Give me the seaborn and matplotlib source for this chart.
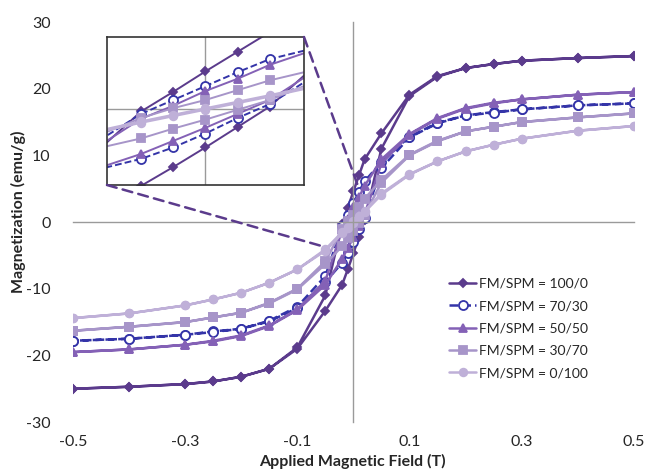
import matplotlib
matplotlib.use('Agg')

import matplotlib.pyplot as plt
from matplotlib.patches import ConnectionPatch
import seaborn as sns
import pandas as pd

# field sweep: down from +0.5 T, then back up from -0.5 T
field_down = [0.5, 0.4, 0.3, 0.25, 0.2, 0.15, 0.1, 0.05, 0.02, 0.01, 0.0,
              -0.01, -0.02, -0.05, -0.1, -0.15, -0.2, -0.25, -0.3, -0.4, -0.5]
field_up = field_down[::-1]

m100_down = [24.9, 24.6, 24.2, 23.7, 23.1, 21.9, 19.1, 13.3, 9.4, 7.0, 4.6,
             2.1, -0.3, -11.0, -18.8, -22.0, -23.2, -23.9, -24.3, -24.7, -25.0]
m100_up = [-25.0, -24.7, -24.3, -23.9, -23.2, -22.0, -19.0, -13.3, -9.4, -7.1, -4.7,
           -2.2, 0.3, 11.0, 18.9, 21.8, 23.1, 23.7, 24.2, 24.6, 24.9]

m70_down = [17.8, 17.5, 16.9, 16.5, 16.0, 14.9, 12.8, 9.0, 6.1, 4.5, 2.8,
            1.1, -0.6, -8.1, -12.7, -14.8, -16.0, -16.4, -16.9, -17.5, -17.8]
m70_up = [-17.8, -17.5, -16.9, -16.5, -16.0, -14.9, -12.9, -9.0, -6.1, -4.7, -3.0,
          -1.1, 0.6, 8.1, 12.7, 14.8, 16.0, 16.4, 16.9, 17.5, 17.8]

m50_down = [19.5, 19.1, 18.4, 17.9, 17.1, 15.6, 13.2, 9.4, 5.4, 3.7, 2.2,
            0.4, -1.2, -8.8, -13.1, -15.5, -17.0, -17.8, -18.4, -19.1, -19.5]
m50_up = [-19.5, -19.1, -18.4, -17.9, -17.1, -15.6, -13.2, -9.4, -5.5, -3.9, -2.3,
          -0.6, 1.1, 8.8, 13.1, 15.5, 17.0, 17.8, 18.4, 19.1, 19.5]

m30_down = [16.3, 15.7, 15.0, 14.3, 13.6, 12.2, 10.1, 6.3, 3.5, 2.3, 1.1,
            0.1, -1.1, -5.9, -10.0, -12.1, -13.6, -14.3, -15.0, -15.7, -16.3]
m30_up = [-16.3, -15.7, -15.0, -14.3, -13.6, -12.2, -10.1, -6.3, -3.6, -2.4, -1.3,
          -0.1, 1.1, 5.9, 10.0, 12.1, 13.6, 14.3, 15.0, 15.7, 16.3]

m0_down = [14.4, 13.7, 12.5, 11.6, 10.6, 9.1, 7.2, 4.3, 1.7, 0.9, 0.1,
           -0.7, -1.5, -4.1, -7.1, -9.1, -10.6, -11.6, -12.5, -13.7, -14.4]
m0_up = [-14.4, -13.7, -12.5, -11.6, -10.6, -9.1, -7.1, -4.3, -1.7, -0.9, -0.1,
         0.7, 1.5, 4.1, 7.1, 9.1, 10.6, 11.6, 12.5, 13.7, 14.4]

labels = ['FM/SPM = 100/0', 'FM/SPM = 70/30', 'FM/SPM = 50/50',
          'FM/SPM = 30/70', 'FM/SPM = 0/100']
loops = [(m100_down, m100_up), (m70_down, m70_up), (m50_down, m50_up),
         (m30_down, m30_up), (m0_down, m0_up)]

x_ticks = [-0.5, -0.3, -0.1, 0.1, 0.3, 0.5]
y_ticks = [-30, -20, -10, 0, 10, 20, 30]

# styles
styles = [
    dict(color='#5b3b8c', marker='D', ms=4.5, ls='-', mfc='#5b3b8c'),
    dict(color='#3434a8', marker='o', ms=6.5, ls=(0, (3.5, 1.6)), mfc='white'),
    dict(color='#8461b6', marker='^', ms=6, ls='-', mfc='#8461b6'),
    dict(color='#a795c9', marker='s', ms=5.5, ls='-', mfc='#a795c9'),
    dict(color='#bfb0d8', marker='o', ms=5.5, ls='-', mfc='#bfb0d8'),
]

rows = []
for lab, (down, up) in zip(labels, loops):
    for h, m in zip(field_down + field_up, down + up):
        rows.append((lab, h, m))
df = pd.DataFrame(rows, columns=['sample', 'field', 'mag'])

sns.set_style('white')
plt.rcParams['font.family'] = ['Lato', 'DejaVu Sans']

fig = plt.figure(figsize=(6.46, 4.69), dpi=100)
ax = fig.add_axes([0.113, 0.1, 0.868, 0.853])


def draw(axis, lw):
    handles = []
    for lab, st in zip(labels, styles):
        sub = df[df['sample'] == lab]
        sns.lineplot(data=sub, x='field', y='mag', sort=False, estimator=None,
                     ax=axis, color=st['color'], linestyle=st['ls'], lw=lw,
                     marker=st['marker'], markersize=st['ms'],
                     markerfacecolor=st['mfc'], markeredgecolor=st['color'],
                     markeredgewidth=1.3, legend=False)
        handles.append(axis.lines[-1])
    return handles


handles = draw(ax, 1.8)

ax.set_xlim(-0.5, 0.5)
ax.set_ylim(-30, 30)
for s in ['top', 'right']:
    ax.spines[s].set_visible(False)
ax.spines['left'].set_position('zero')
ax.spines['bottom'].set_position('zero')
for s in ['left', 'bottom']:
    ax.spines[s].set_color('#9a9a9a')
    ax.spines[s].set_linewidth(1.0)
ax.set_xticks(x_ticks)
ax.set_yticks(y_ticks)
ax.tick_params(direction='inout', length=9, width=1.0, color='#9a9a9a',
               labelbottom=False, labelleft=False)
ax.set_xlabel('')
ax.set_ylabel('')

# tick labels sit at the frame edges, like the Excel original
secx = ax.secondary_xaxis('bottom')
secx.set_xticks(x_ticks, [f'{t:.1f}' for t in x_ticks])
secx.tick_params(length=0, pad=9, labelsize=11.5, labelcolor='#262626')
secx.spines['bottom'].set_visible(False)
secy = ax.secondary_yaxis('left')
secy.set_yticks(y_ticks, [str(t) for t in y_ticks])
secy.tick_params(length=0, pad=16, labelsize=11.5, labelcolor='#262626')
secy.spines['left'].set_visible(False)

fig.text(0.545, 0.0, 'Applied Magnetic Field (T)', ha='center', va='bottom',
         fontsize=11.5, fontweight='bold', color='#262626')
fig.text(0.028, 0.548, 'Magnetization (emu/g)', ha='center', va='center',
         rotation=90, fontsize=11.5, fontweight='bold', color='#262626')

ax.legend(handles=handles, labels=labels, loc='upper left',
          bbox_to_anchor=(0.66, 0.375), frameon=False, fontsize=10,
          handlelength=2.0, handletextpad=0.2, labelspacing=0.75,
          borderaxespad=0)

# zoomed inset around the origin
ins = fig.add_axes([0.1656, 0.6055, 0.305, 0.3156])
ins.set_facecolor('white')
draw(ins, 1.4)
ins.set_xlim(-0.0306, 0.0306)
ins.set_ylim(-9.3, 8.8)
ins.axhline(0, color='#9a9a9a', lw=1.0, zorder=0)
ins.axvline(0, color='#9a9a9a', lw=1.0, zorder=0)
ins.set_xticks([])
ins.set_yticks([])
ins.set_xlabel('')
ins.set_ylabel('')
for s in ins.spines.values():
    s.set_visible(True)
    s.set_color('#333333')
    s.set_linewidth(1.2)

for a, b in [((1, 1), (0.007, 5.7)), ((0, 0), (-0.052, -3.7))]:
    con = ConnectionPatch(xyA=a, coordsA=ins.transAxes, xyB=b, coordsB=ax.transData,
                          color='#5b3b8c', lw=1.8, ls=(0, (4, 2.5)))
    fig.add_artist(con)

plt.savefig('out.png', dpi=100)
